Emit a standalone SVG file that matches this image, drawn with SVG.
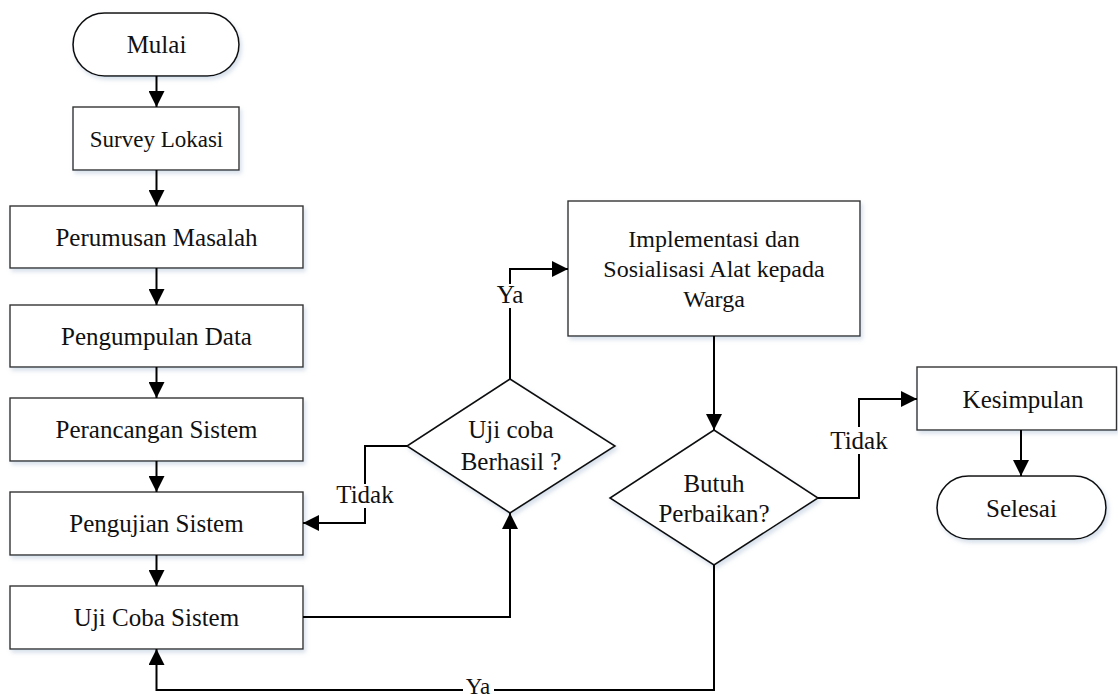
<svg xmlns="http://www.w3.org/2000/svg" width="1118" height="699" viewBox="0 0 1118 699">
<style>
  .box { fill: #ffffff; stroke: #333333; stroke-width: 1.4; filter: url(#shadow); }
  .term { fill: #ffffff; stroke: #111111; stroke-width: 1.6; filter: url(#shadow); }
  .dia { fill: #ffffff; stroke: #111111; stroke-width: 1.6; filter: url(#shadow); }
  .t { font-family: "Liberation Serif", "Times New Roman", serif; font-size: 25px; fill: #111111; text-anchor: middle; }
  .conn { fill: none; stroke: #000000; stroke-width: 2; }
  .lbl { fill: #ffffff; stroke: none; }
</style>
<defs>
  <filter id="shadow" x="-10%" y="-10%" width="130%" height="140%">
    <feDropShadow dx="2" dy="3" stdDeviation="2" flood-color="#8fa6c4" flood-opacity="0.35"/>
  </filter>
  <marker id="arr" markerUnits="userSpaceOnUse" markerWidth="16" markerHeight="16" viewBox="0 0 16 16" refX="16" refY="8" orient="auto">
    <path d="M0,0 L16,8 L0,16 z" fill="#000000"/>
  </marker>
</defs>
<rect width="1118" height="699" fill="#ffffff"/>

<g id="mulai">
  <rect class="term" x="73" y="13" width="166" height="63" rx="31.5" ry="31.5"/>
  <text class="t" x="156.5" y="53">Mulai</text>
</g>
<g id="survey">
  <rect class="box" x="73" y="107" width="166" height="63"/>
  <text class="t" x="156.5" y="147" style="font-size:23px">Survey Lokasi</text>
</g>
<g id="perumusan">
  <rect class="box" x="10" y="206" width="293" height="62"/>
  <text class="t" x="156.5" y="246">Perumusan Masalah</text>
</g>
<g id="pengumpulan">
  <rect class="box" x="10" y="305" width="293" height="62"/>
  <text class="t" x="156.5" y="345">Pengumpulan Data</text>
</g>
<g id="perancangan">
  <rect class="box" x="10" y="398" width="293" height="63"/>
  <text class="t" x="156.5" y="438">Perancangan Sistem</text>
</g>
<g id="pengujian">
  <rect class="box" x="10" y="492" width="293" height="63"/>
  <text class="t" x="156.5" y="532">Pengujian Sistem</text>
</g>
<g id="ujicoba">
  <rect class="box" x="10" y="586" width="293" height="63"/>
  <text class="t" x="156.5" y="626">Uji Coba Sistem</text>
</g>
<g id="decision1">
  <polygon class="dia" points="510,379 615,446 510,513 407,446"/>
  <text class="t" x="511" y="438">Uji coba</text>
  <text class="t" x="511" y="470">Berhasil ?</text>
</g>
<g id="implementasi">
  <rect class="box" x="568" y="201" width="292" height="135"/>
  <text class="t" x="714" y="247" style="font-size:24px">Implementasi dan</text>
  <text class="t" x="714" y="277" style="font-size:24px">Sosialisasi Alat kepada</text>
  <text class="t" x="714" y="307" style="font-size:24px">Warga</text>
</g>
<g id="decision2">
  <polygon class="dia" points="714,430 818,498 714,565 610,498"/>
  <text class="t" x="714" y="492">Butuh</text>
  <text class="t" x="714" y="522">Perbaikan?</text>
</g>
<g id="kesimpulan">
  <rect class="box" x="917" y="367" width="199.5" height="63"/>
  <text class="t" x="1023" y="408">Kesimpulan</text>
</g>
<g id="selesai">
  <rect class="term" x="937" y="476" width="169" height="63" rx="31.5" ry="31.5"/>
  <text class="t" x="1021.5" y="517">Selesai</text>
</g>

<g id="connectors">
  <path class="conn" d="M156.5,76 V107" marker-end="url(#arr)"/>
  <path class="conn" d="M156.5,170 V206" marker-end="url(#arr)"/>
  <path class="conn" d="M156.5,268 V305" marker-end="url(#arr)"/>
  <path class="conn" d="M156.5,367 V398" marker-end="url(#arr)"/>
  <path class="conn" d="M156.5,461 V492" marker-end="url(#arr)"/>
  <path class="conn" d="M156.5,555 V586" marker-end="url(#arr)"/>
  <path class="conn" d="M303,617 H510 V513" marker-end="url(#arr)"/>
  <path class="conn" d="M510,379 V269 H568" marker-end="url(#arr)"/>
  <path class="conn" d="M407,446 H365 V523 H303" marker-end="url(#arr)"/>
  <path class="conn" d="M714,336 V430" marker-end="url(#arr)"/>
  <path class="conn" d="M818,498 H859 V399 H917" marker-end="url(#arr)"/>
  <path class="conn" d="M1021,430 V476" marker-end="url(#arr)"/>
  <path class="conn" d="M714,565 V690 H156.5 V649" marker-end="url(#arr)"/>
  <g id="labels">
    <rect class="lbl" x="495" y="284" width="31" height="24"/>
    <text class="t" x="510" y="303">Ya</text>
    <rect class="lbl" x="335" y="484" width="61" height="24"/>
    <text class="t" x="365" y="503">Tidak</text>
    <rect class="lbl" x="829" y="427" width="61" height="27"/>
    <text class="t" x="859" y="449">Tidak</text>
    <rect class="lbl" x="463" y="680" width="31" height="19"/>
    <text class="t" x="478" y="694" style="font-size:23px">Ya</text>
  </g>
</g>
</svg>
